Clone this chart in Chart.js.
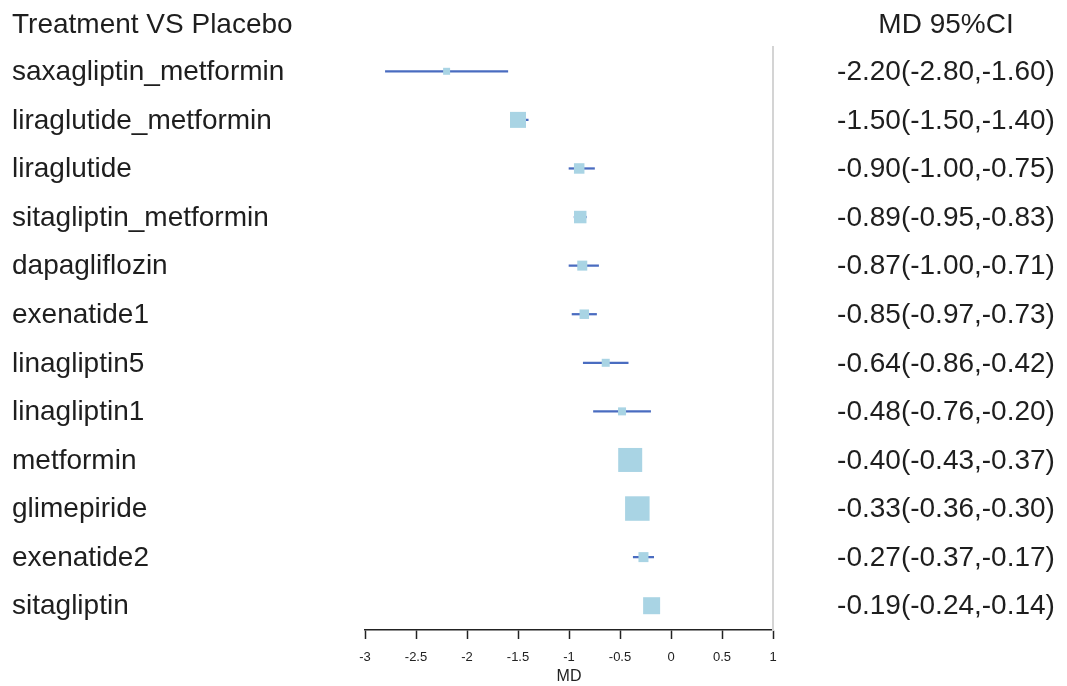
<!DOCTYPE html>
<html>
<head>
<meta charset="utf-8">
<script src="https://cdn.jsdelivr.net/npm/chart.js@4.4.1/dist/chart.umd.min.js"></script>
<style>
  html, body { margin: 0; padding: 0; background: #ffffff; }
  #wrap { width: 1067px; height: 686px; }
</style>
</head>
<body>
<div id="wrap"><canvas id="forest" width="1067" height="686"></canvas></div>
<script>
// Network comparison of each treatment against placebo: mean difference and 95% CI
const treatments = [
  'saxagliptin_metformin', 'liraglutide_metformin', 'liraglutide', 'sitagliptin_metformin',
  'dapagliflozin', 'exenatide1', 'linagliptin5', 'linagliptin1',
  'metformin', 'glimepiride', 'exenatide2', 'sitagliptin'
];
const md      = [-2.20, -1.50, -0.90, -0.89, -0.87, -0.85, -0.64, -0.48, -0.40, -0.33, -0.27, -0.19];
const ciLower = [-2.80, -1.50, -1.00, -0.95, -1.00, -0.97, -0.86, -0.76, -0.43, -0.36, -0.37, -0.24];
const ciUpper = [-1.60, -1.40, -0.75, -0.83, -0.71, -0.73, -0.42, -0.20, -0.37, -0.30, -0.17, -0.14];
// relative weight of each estimate (drives the box size)
const weights = [7, 16, 10.5, 12.5, 10, 9.5, 8, 8, 24, 24.5, 10, 17];

const headerLeft = 'Treatment VS Placebo';
const headerRight = 'MD 95%CI';
const xTitle = 'MD';

const fmt = v => v.toFixed(2);
const ciText = md.map((m, i) => `${fmt(m)}(${fmt(ciLower[i])},${fmt(ciUpper[i])})`);

const TEXT_FONT = '28px "Liberation Sans", Arial, sans-serif';
const TEXT_COLOR = '#1e1e1e';

// Left treatment names and right estimate column, placed on the category scale rows
const textColumns = {
  id: 'textColumns',
  afterDraw(chart) {
    const ctx = chart.ctx;
    const yScale = chart.scales.y;
    ctx.save();
    ctx.font = TEXT_FONT;
    ctx.fillStyle = TEXT_COLOR;
    ctx.textBaseline = 'middle';

    ctx.textAlign = 'left';
    ctx.fillText(headerLeft, 12, 25);
    treatments.forEach((name, i) => {
      ctx.fillText(name, 12, yScale.getPixelForValue(i) + 1);
    });

    ctx.textAlign = 'center';
    ctx.fillText(headerRight, 946, 25);
    ciText.forEach((txt, i) => {
      ctx.fillText(txt, 946, yScale.getPixelForValue(i) + 1);
    });
    ctx.restore();
  }
};

new Chart(document.getElementById('forest'), {
  type: 'bar',
  data: {
    labels: treatments,
    datasets: [
      {
        type: 'line',
        label: 'MD',
        indexAxis: 'y',
        data: md,
        showLine: false,
        pointStyle: 'rect',
        pointRadius: weights.map(w => w / Math.SQRT2),
        pointHoverRadius: weights.map(w => w / Math.SQRT2),
        pointBackgroundColor: '#a9d4e4',
        pointBorderWidth: 0,
        order: 0
      },
      {
        type: 'bar',
        label: '95% CI',
        indexAxis: 'y',
        data: ciLower.map((lo, i) => [lo, ciUpper[i]]),
        backgroundColor: '#4a6cc0',
        borderWidth: 0,
        barThickness: 1.6,
        order: 1
      }
    ]
  },
  options: {
    indexAxis: 'y',
    responsive: false,
    animation: false,
    layout: { padding: { left: 365, right: 294, top: 47, bottom: 0 } },
    plugins: {
      legend: { display: false },
      tooltip: { enabled: false }
    },
    scales: {
      x: {
        type: 'linear',
        position: 'bottom',
        min: -3,
        max: 1,
        ticks: {
          stepSize: 0.5,
          color: '#222',
          font: { family: '"Liberation Sans", Arial, sans-serif', size: 13 },
          padding: 11,
          maxRotation: 0,
          autoSkip: false,
          callback: v => String(v)
        },
        grid: {
          display: true,
          drawOnChartArea: false,
          drawTicks: true,
          tickLength: 9,
          tickColor: '#222',
          tickWidth: 1.5
        },
        border: { display: true, color: '#222', width: 1.5 },
        title: {
          display: true,
          text: xTitle,
          color: '#222',
          font: { family: '"Liberation Sans", Arial, sans-serif', size: 16 },
          padding: { top: 0, bottom: 0 }
        },
        afterFit(scale) { scale.height = 56; }
      },
      y: {
        type: 'category',
        position: 'right',
        offset: true,
        ticks: { display: false },
        grid: { display: true, drawOnChartArea: false, drawTicks: false },
        border: { display: true, color: '#d4d4d4', width: 2 },
        afterFit(scale) { scale.width = 0; }
      }
    }
  },
  plugins: [textColumns]
});
</script>
</body>
</html>
